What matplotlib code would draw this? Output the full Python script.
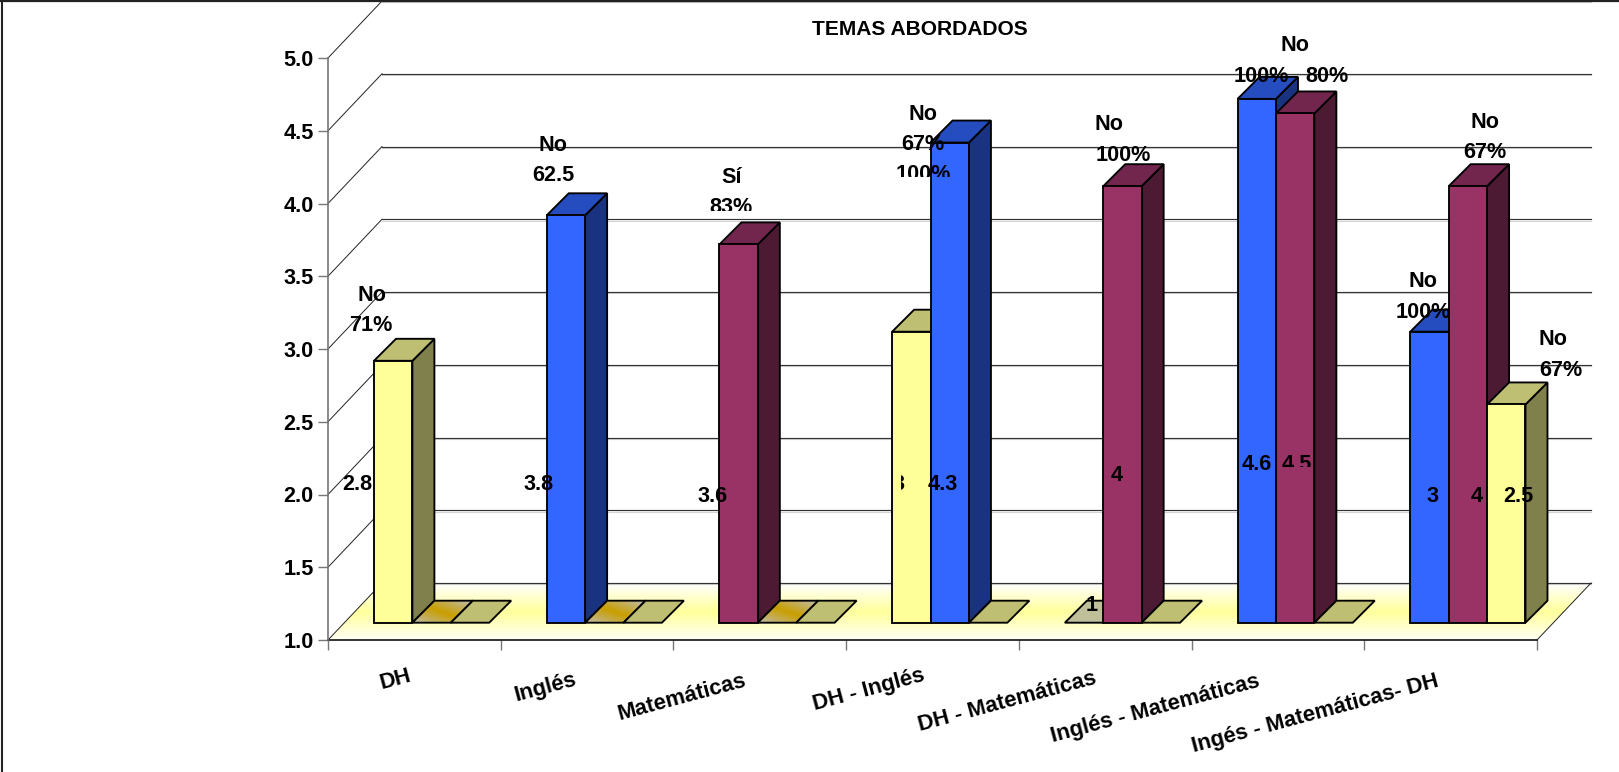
import numpy as np
import matplotlib
matplotlib.use("Agg")
import matplotlib.pyplot as plt
from matplotlib.patches import Polygon, Rectangle
from matplotlib.colors import LinearSegmentedColormap

# ---------- data ----------
title = "TEMAS ABORDADOS"
categories = ["DH", "Inglés", "Matemáticas", "DH - Inglés", "DH - Matemáticas",
              "Inglés - Matemáticas", "Ingés - Matemáticas- DH"]
series_1 = [2.8, 3.8, 3.6, 3, 1, 4.6, 3]
series_2 = [1, 1, 1, 4.3, 4, 4.5, 4]
series_3 = [1, 1, 1, 1, 1, 1, 2.5]
colour_1 = ["yellow", "blue", "red", "yellow", "grey", "blue", "blue"]
colour_2 = ["gradient", "gradient", "gradient", "blue", "red", "red", "red"]
colour_3 = ["yellow", "yellow", "yellow", "yellow", "yellow", "yellow", "yellow"]
y_ticks = [1.0, 1.5, 2.0, 2.5, 3.0, 3.5, 4.0, 4.5, 5.0]

palette = {
    "yellow": ("#FFFF99", "#BFBF73", "#80804D"),
    "blue": ("#3366FF", "#264DBF", "#1A3380"),
    "red": ("#993366", "#73264D", "#4D1A33"),
    "grey": ("#BFBF99", "#BFBF99", "#80804D"),
}

# answer notes: text, centre in pixels
notes = [
    ("No", 372, 293), ("71%", 371, 323),
    ("No", 553, 143), ("62.5", 553, 173),
    ("Sí", 732, 175), ("83%", 731, 205),
    ("No", 923, 112), ("67%", 923, 142), ("100%", 923, 172),
    ("No", 1109, 122), ("100%", 1123, 153),
    ("No", 1295, 43), ("100%", 1261, 74), ("80%", 1327, 74),
    ("No", 1423, 279), ("100%", 1423, 310),
    ("No", 1485, 120), ("67%", 1485, 150),
    ("No", 1553, 337), ("67%", 1561, 368),
]
value_labels = [
    ("2.8", 357, 482), ("3.8", 539, 482), ("3.6", 713, 494),
    ("3", 899, 482), ("4.3", 943, 482), ("4", 1117, 473), ("1", 1092, 603),
    ("4.6", 1257, 462), ("4.5", 1297, 462),
    ("3", 1433, 494), ("4", 1477, 494), ("2.5", 1518, 494),
]
category_label_centres = [(395, 677), (545, 685), (682, 695), (869, 688),
                          (1007, 700), (1155, 707), (1315, 712)]

# ---------- layout (pixels of the 1619x772 canvas) ----------
W, H = 1619, 772
plt.rcParams["font.family"] = ["Liberation Sans", "DejaVu Sans"]
plt.rcParams["font.weight"] = "bold"
fig = plt.figure(figsize=(W / 100, H / 100), dpi=100, facecolor="white")
L, R, Y1, Y5 = 328, 1537, 640, 58
ax = fig.add_axes([L / W, 1 - Y1 / H, (R - L) / W, (Y1 - Y5) / H])
ax.set_xlim(0, len(categories))
ax.set_ylim(1, 5)
ax.patch.set_alpha(0)
for s in ax.spines.values():
    s.set_visible(False)

DX = len(categories) / (R - L)
DY = 4 / (Y1 - Y5)
WALL_X, WALL_Y = 54 * DX, 57 * DY
BASE_X, BASE_Y = 46 * DX, 17.3 * DY
SLOT = 38.4 * DX
DEPTH_X, DEPTH_Y = 22 * DX, 22 * DY
LW = 1.35

# floor gradient
floor = Polygon([(0, 1), (7, 1), (7 + WALL_X, 1 + WALL_Y), (WALL_X, 1 + WALL_Y)],
                closed=True, fc="none", ec="none", transform=ax.transData, clip_on=False)
ax.add_patch(floor)
cmap = LinearSegmentedColormap.from_list("floor", ["#FFFFF4", "#FFFF9C", "#FFFFFF"])
im = ax.imshow(np.linspace(0, 1, 128)[:, None], cmap=cmap, origin="lower", aspect="auto",
               extent=(0, 7 + WALL_X, 1, 1 + WALL_Y), zorder=1, interpolation="bilinear")
im.set_clip_box(fig.bbox)
im.set_clip_path(floor)
ax.set_xlim(0, len(categories))
ax.set_ylim(1, 5)

# walls
for v in y_ticks:
    ax.plot([0, WALL_X], [v, v + WALL_Y], color="#222222", lw=0.7, zorder=2, clip_on=False)
    ax.plot([WALL_X, 7 + WALL_X], [v + WALL_Y - 1.3 * DY] * 2, color="#D4D4D4", lw=0.8, zorder=1.5,
            clip_on=False)
    ax.plot([WALL_X, 7 + WALL_X], [v + WALL_Y] * 2, color="#333333", lw=0.85, zorder=2, clip_on=False)
ax.plot([7, 7 + WALL_X], [1, 1 + WALL_Y], color="#222222", lw=0.7, zorder=2, clip_on=False)
ax.plot([0, 7], [1, 1], color="#111111", lw=1.2, zorder=2.5, clip_on=False)
ax.plot([0, 0], [1, 5], color="#777777", lw=1.2, zorder=2.5, clip_on=False)

# axis ticks
ax.set_yticks(y_ticks)
ax.set_yticklabels([f"{v:.1f}" for v in y_ticks], fontsize=15.6, fontweight="bold", color="black")
ax.set_xticks(range(len(categories) + 1))
ax.set_xticklabels([])
ax.tick_params(axis="both", length=7.2, width=1.0, color="#777777", pad=3)


def gradient_top(x0, y0, z):
    poly = Polygon([(x0, y0), (x0 + SLOT, y0), (x0 + SLOT + DEPTH_X, y0 + DEPTH_Y),
                    (x0 + DEPTH_X, y0 + DEPTH_Y)], closed=True, fc="none", ec="none",
                   transform=ax.transData, zorder=z, clip_on=False)
    ax.add_patch(poly)
    n = 64
    xx, yy = np.meshgrid(np.linspace(0, 1, n), np.linspace(0, 1, n))
    g = np.clip(np.abs((xx + yy) / 2 - 0.5) * 2 / 0.95, 0, 1)
    cm = LinearSegmentedColormap.from_list("flat", ["#C99F00", "#C4AC50", "#C0BAA4"])
    i = ax.imshow(g, cmap=cm, origin="lower", aspect="auto", zorder=z + 0.01,
                  extent=(x0, x0 + SLOT + DEPTH_X, y0, y0 + DEPTH_Y), interpolation="bilinear")
    i.set_clip_path(poly)
    ax.add_patch(Polygon(poly.get_xy(), closed=True, fc="none", ec="black", lw=LW, zorder=z + 0.02,
                         joinstyle="miter", clip_on=False))


def bar(x0, v, name, z):
    y0 = 1 + BASE_Y
    y1 = v + BASE_Y
    if name == "gradient":
        gradient_top(x0, y0, z)
        return
    front, top, side = palette[name]
    x1 = x0 + SLOT
    edge = dict(ec="black", lw=LW, joinstyle="miter", zorder=z, clip_on=False)
    if v > 1:
        ax.add_patch(Polygon([(x1, y0), (x1 + DEPTH_X, y0 + DEPTH_Y), (x1 + DEPTH_X, y1 + DEPTH_Y), (x1, y1)],
                             closed=True, fc=side, **edge))
    ax.add_patch(Polygon([(x0, y1), (x1, y1), (x1 + DEPTH_X, y1 + DEPTH_Y), (x0 + DEPTH_X, y1 + DEPTH_Y)],
                         closed=True, fc=top, **edge))
    if v > 1:
        ax.add_patch(Rectangle((x0, y0), SLOT, v - 1, fc=front, **edge))


z = 3.0
for k in range(len(categories)):
    for slot, (vals, cols) in enumerate(((series_1, colour_1), (series_2, colour_2), (series_3, colour_3))):
        bar(k + BASE_X + slot * SLOT, vals[k], cols[k], z)
        z += 0.1

ax.set_xlim(0, len(categories))
ax.set_ylim(1, 5)

TEXT_SHIFT = 2.3


# ---------- text ----------
def put(s, x, y, size=15.6, rotation=0, clip=None):
    t = fig.text(x / W, 1 - (y + TEXT_SHIFT) / H, s, ha="center", va="center", fontsize=size,
                 fontweight="bold", color="black", rotation=rotation, rotation_mode="anchor", zorder=20)
    if clip is not None:
        cx0, cy0, cx1, cy1 = clip
        r = Rectangle((cx0, H - cy1), cx1 - cx0, cy1 - cy0, transform=None)
        t.set_clip_path(r)
        t.set_clip_on(True)
    return t


clips = {
    ("83%", 731): (0, 0, W, 210.5),
    ("100%", 923): (0, 0, W, 176.7),
    ("4.5", 1297): (0, 0, W, 466.7),
    ("3", 899): (900.5, 0, W, H),
}
put(title, 920, 27, size=15.1)
for s, x, y in notes + value_labels:
    put(s, x, y, clip=clips.get((s, x)))
for s, (x, y) in zip(categories, category_label_centres):
    put(s, x, y, size=15.8, rotation=15)

# frame of the picture
fig.add_artist(plt.Line2D([0, 1], [1 - 0.8 / H] * 2, color="#222222", lw=1.6, transform=fig.transFigure))
fig.add_artist(plt.Line2D([2 / W] * 2, [0, 1], color="#222222", lw=1.5, transform=fig.transFigure))

fig.savefig("out.png", dpi=100)
